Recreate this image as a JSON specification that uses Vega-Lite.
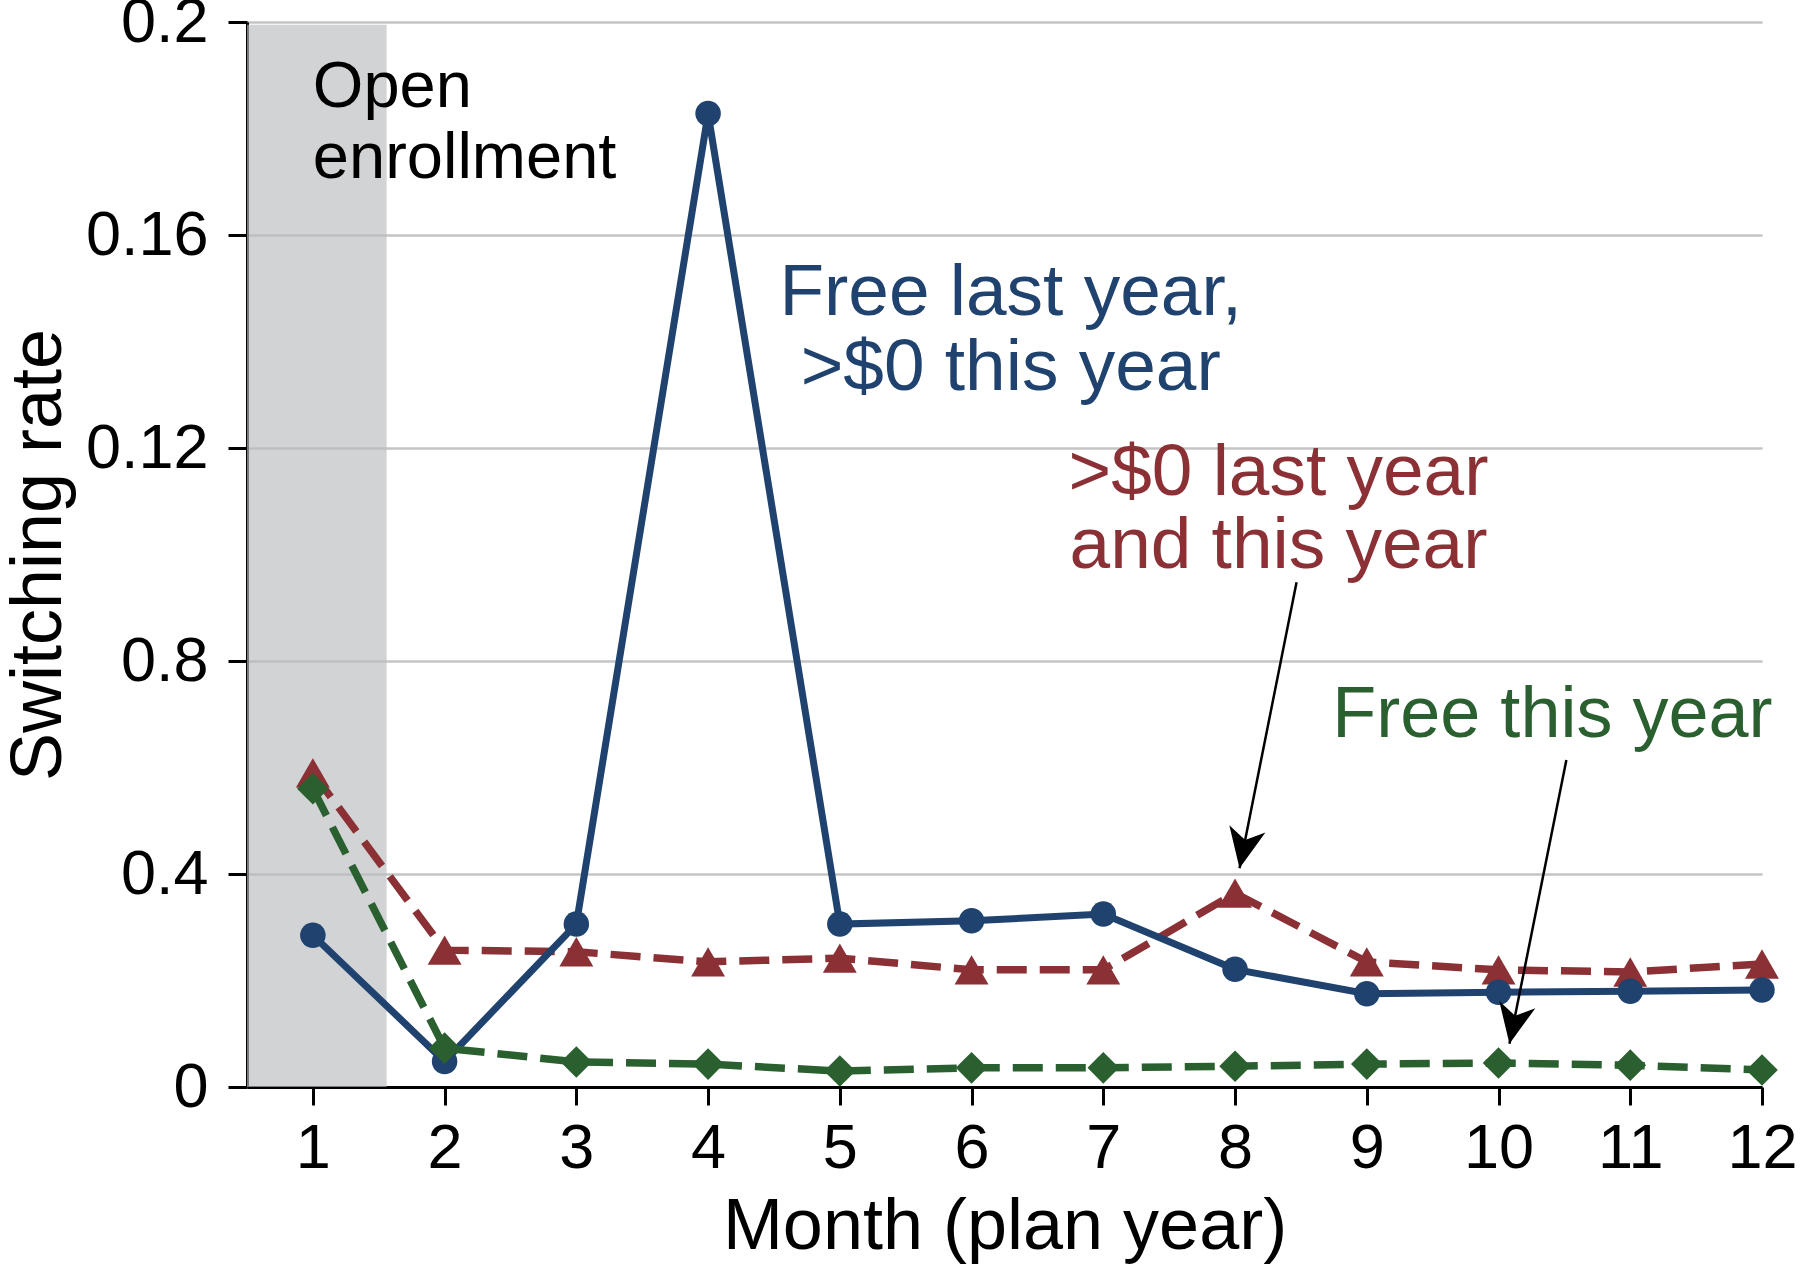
{
  "$schema": "https://vega.github.io/schema/vega-lite/v6.json",
  "width": 1515,
  "height": 1065,
  "autosize": {"type": "none"},
  "padding": {"left": 247, "top": 22, "right": 38, "bottom": 188},
  "background": "white",
  "config": {
    "view": {"stroke": null},
    "font": "Liberation Sans",
    "text": {"font": "Liberation Sans"}
  },
  "datasets": {
    "band": [{"x": 0.5, "x2": 1.56, "y": 0, "y2": 0.1995}],
    "series": [
      {"s": "red", "x": 1, "y": 0.0590}, {"s": "red", "x": 2, "y": 0.0257}, {"s": "red", "x": 3, "y": 0.0254},
      {"s": "red", "x": 4, "y": 0.0235}, {"s": "red", "x": 5, "y": 0.0242}, {"s": "red", "x": 6, "y": 0.0220},
      {"s": "red", "x": 7, "y": 0.0220}, {"s": "red", "x": 8, "y": 0.0364}, {"s": "red", "x": 9, "y": 0.0235},
      {"s": "red", "x": 10, "y": 0.0220}, {"s": "red", "x": 11, "y": 0.0216}, {"s": "red", "x": 12, "y": 0.0231},
      {"s": "blue", "x": 1, "y": 0.0285}, {"s": "blue", "x": 2, "y": 0.0048}, {"s": "blue", "x": 3, "y": 0.0306},
      {"s": "blue", "x": 4, "y": 0.1828}, {"s": "blue", "x": 5, "y": 0.0306}, {"s": "blue", "x": 6, "y": 0.0312},
      {"s": "blue", "x": 7, "y": 0.0325}, {"s": "blue", "x": 8, "y": 0.0221}, {"s": "blue", "x": 9, "y": 0.0175},
      {"s": "blue", "x": 10, "y": 0.0178}, {"s": "blue", "x": 11, "y": 0.0180}, {"s": "blue", "x": 12, "y": 0.0182},
      {"s": "green", "x": 1, "y": 0.0560}, {"s": "green", "x": 2, "y": 0.0073}, {"s": "green", "x": 3, "y": 0.0047},
      {"s": "green", "x": 4, "y": 0.0043}, {"s": "green", "x": 5, "y": 0.0030}, {"s": "green", "x": 6, "y": 0.0036},
      {"s": "green", "x": 7, "y": 0.0036}, {"s": "green", "x": 8, "y": 0.0039}, {"s": "green", "x": 9, "y": 0.0043},
      {"s": "green", "x": 10, "y": 0.0045}, {"s": "green", "x": 11, "y": 0.0041}, {"s": "green", "x": 12, "y": 0.0032}
    ],
    "labels": [
      {"g": "open", "x": 1.0, "y": 0.1840, "t": "Open"},
      {"g": "open", "x": 1.0, "y": 0.1707, "t": "enrollment"},
      {"g": "blue", "x": 6.297, "y": 0.1450, "t": "Free last year,"},
      {"g": "blue", "x": 6.297, "y": 0.1309, "t": ">$0 this year"},
      {"g": "red", "x": 8.33, "y": 0.1112, "t": ">$0 last year"},
      {"g": "red", "x": 8.33, "y": 0.0975, "t": "and this year"},
      {"g": "green", "x": 10.409, "y": 0.0657, "t": "Free this year"}
    ],
    "arrows": [
      {"x": 8.034, "y": 0.0411, "x2": 8.467, "y2": 0.0948},
      {"x": 10.083, "y": 0.0081, "x2": 10.515, "y2": 0.0614}
    ]
  },
  "encoding": {
    "x": {
      "field": "x", "type": "quantitative",
      "scale": {"domain": [0.5, 12], "nice": false, "zero": false},
      "title": "Month (plan year)",
      "axis": {
        "values": [1, 2, 3, 4, 5, 6, 7, 8, 9, 10, 11, 12],
        "grid": false,
        "domainColor": "black", "domainWidth": 3,
        "tickColor": "black", "tickWidth": 3, "tickSize": 18,
        "labelFont": "Liberation Sans", "labelFontSize": 63, "labelColor": "black",
        "labelPadding": 12, "labelFlush": false, "labelOverlap": false,
        "titleFont": "Liberation Sans", "titleFontSize": 72, "titleFontWeight": "normal", "titleColor": "black",
        "titleBaseline": "alphabetic", "titleY": 161
      }
    },
    "y": {
      "field": "y", "type": "quantitative",
      "scale": {"domain": [0, 0.2], "nice": false},
      "title": "Switching rate",
      "axis": {
        "values": [0, 0.04, 0.08, 0.12, 0.16, 0.2],
        "labelExpr": "datum.value < 0.01 ? '0' : datum.value < 0.05 ? '0.4' : datum.value < 0.1 ? '0.8' : datum.value < 0.14 ? '0.12' : datum.value < 0.18 ? '0.16' : '0.2'",
        "grid": true, "gridColor": "#c4c4c4", "gridWidth": 2.5,
        "domainColor": "black", "domainWidth": 3,
        "tickColor": "black", "tickWidth": 3, "tickSize": 19,
        "labelFont": "Liberation Sans", "labelFontSize": 63, "labelColor": "black",
        "labelPadding": 20, "labelFlush": false, "labelOverlap": false, "labelBaseline": "middle",
        "titleFont": "Liberation Sans", "titleFontSize": 72, "titleFontWeight": "normal", "titleColor": "black",
        "titleBaseline": "alphabetic", "titleX": -187, "titleY": 532.5, "titleAlign": "center", "titleAngle": -90
      }
    }
  },
  "layer": [
    {
      "data": {"name": "band"},
      "mark": {"type": "rect", "color": "#b9bbbf", "opacity": 0.65},
      "encoding": {"x2": {"field": "x2"}, "y2": {"field": "y2"}}
    },
    {
      "data": {"name": "series"},
      "transform": [{"filter": "datum.s == 'red'"}],
      "mark": {"type": "line", "color": "#8b3035", "strokeWidth": 7.5, "strokeDash": [30, 13]}
    },
    {
      "data": {"name": "series"},
      "transform": [{"filter": "datum.s == 'red'"}],
      "mark": {"type": "point", "shape": "triangle-up", "filled": true, "color": "#8b3035", "size": 1150, "opacity": 1}
    },
    {
      "data": {"name": "series"},
      "transform": [{"filter": "datum.s == 'blue'"}],
      "mark": {"type": "line", "color": "#1f426f", "strokeWidth": 7}
    },
    {
      "data": {"name": "series"},
      "transform": [{"filter": "datum.s == 'blue'"}],
      "mark": {"type": "point", "shape": "circle", "filled": true, "color": "#1f426f", "size": 650, "opacity": 1}
    },
    {
      "data": {"name": "series"},
      "transform": [{"filter": "datum.s == 'green'"}],
      "mark": {"type": "line", "color": "#2a5f2f", "strokeWidth": 7.5, "strokeDash": [30, 13]}
    },
    {
      "data": {"name": "series"},
      "transform": [{"filter": "datum.s == 'green'"}],
      "mark": {"type": "point", "shape": "diamond", "filled": true, "color": "#2a5f2f", "size": 1000, "opacity": 1}
    },
    {
      "data": {"name": "arrows"},
      "mark": {"type": "rule", "color": "black", "strokeWidth": 2.5},
      "encoding": {"x2": {"field": "x2"}, "y2": {"field": "y2"}}
    },
    {
      "data": {"name": "arrows"},
      "mark": {"type": "point", "shape": "M0,0 L-0.46,-1 L0,-0.72 L0.46,-1 Z", "filled": true, "color": "black", "size": 6400, "angle": 11.3, "opacity": 1}
    },
    {
      "data": {"name": "labels"},
      "transform": [{"filter": "datum.g == 'open'"}],
      "mark": {"type": "text", "align": "left", "baseline": "alphabetic", "fontSize": 65, "color": "black", "font": "Liberation Sans"},
      "encoding": {"text": {"field": "t"}}
    },
    {
      "data": {"name": "labels"},
      "transform": [{"filter": "datum.g == 'blue'"}],
      "mark": {"type": "text", "align": "center", "baseline": "alphabetic", "fontSize": 73, "color": "#1f426f", "font": "Liberation Sans"},
      "encoding": {"text": {"field": "t"}}
    },
    {
      "data": {"name": "labels"},
      "transform": [{"filter": "datum.g == 'red'"}],
      "mark": {"type": "text", "align": "center", "baseline": "alphabetic", "fontSize": 73, "color": "#8b3035", "font": "Liberation Sans"},
      "encoding": {"text": {"field": "t"}}
    },
    {
      "data": {"name": "labels"},
      "transform": [{"filter": "datum.g == 'green'"}],
      "mark": {"type": "text", "align": "center", "baseline": "alphabetic", "fontSize": 72, "color": "#2a5f2f", "font": "Liberation Sans"},
      "encoding": {"text": {"field": "t"}}
    }
  ]
}
